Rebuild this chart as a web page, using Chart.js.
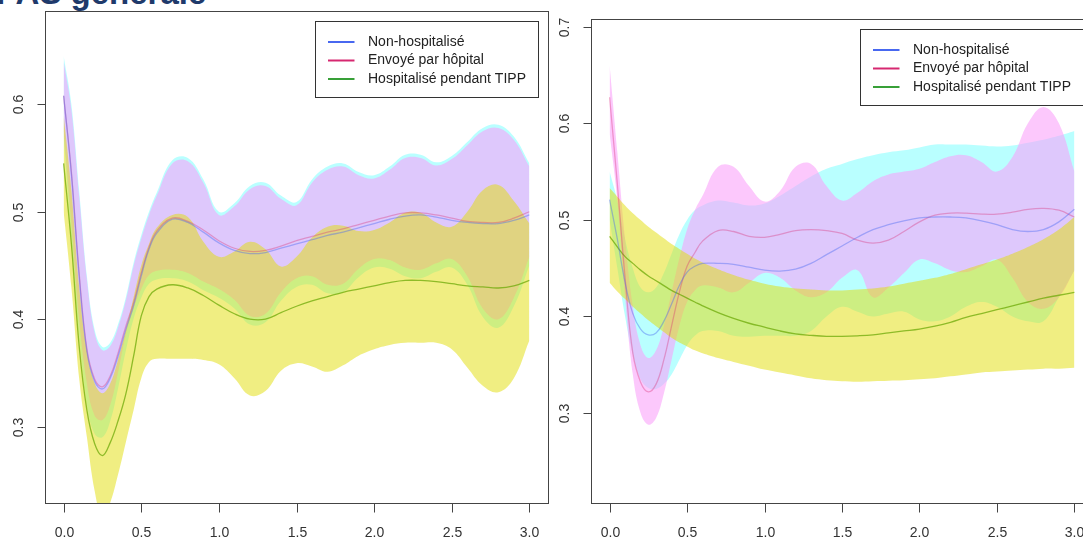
<!DOCTYPE html>
<html>
<head>
<meta charset="utf-8">
<script src="https://cdn.jsdelivr.net/npm/chart.js@4"></script>
<style>
  html, body { margin: 0; padding: 0; background: #fff; overflow: hidden; width: 1083px; height: 541px; }
  #title { position: absolute; left: -4px; top: -26px; font: bold 33px "Liberation Sans", Arial, sans-serif; color: #1f3a6b; white-space: nowrap; }
  .panel { position: absolute; top: 0; width: 560px; height: 541px; }
  #p1 { left: 0; }
  #p2 { left: 548px; }
</style>
</head>
<body>
<div id="title">PAS générale</div>
<div class="panel" id="p1"><canvas id="chartLeft" width="560" height="541"></canvas></div>
<div class="panel" id="p2"><canvas id="chartRight" width="560" height="541"></canvas></div>
<script>
// ===== Data =====
const xs = [0, 0.05, 0.1, 0.15, 0.2, 0.25, 0.3, 0.35, 0.4, 0.45, 0.5, 0.55, 0.6,
            0.7, 0.8, 0.9, 1.0, 1.1, 1.2, 1.3, 1.4, 1.5, 1.6, 1.7, 1.8, 1.9, 2.0,
            2.1, 2.2, 2.3, 2.4, 2.5, 2.6, 2.7, 2.8, 2.9, 3.0];
const xTicks = [0, 0.5, 1, 1.5, 2, 2.5, 3];
const yTicksLeft = [0.3, 0.4, 0.5, 0.6];
const yTicksRight = [0.3, 0.4, 0.5, 0.6, 0.7];
const seriesNames = ["Non-hospitalisé", "Envoyé par hôpital", "Hospitalisé pendant TIPP"];

// left panel
const nonHospMeanL = [0.608,0.535,0.44,0.37,0.342,0.335,0.345,0.365,0.39,0.412,0.44,0.465,0.48,0.493,0.49,0.481,0.471,0.464,0.461,0.462,0.466,0.47,0.474,0.478,0.481,0.485,0.489,0.493,0.496,0.497,0.495,0.492,0.49,0.489,0.489,0.492,0.497];
const nonHospLoL   = [0.57,0.475,0.385,0.32,0.293,0.29,0.305,0.335,0.37,0.4,0.42,0.433,0.437,0.438,0.435,0.427,0.42,0.41,0.395,0.397,0.417,0.43,0.432,0.424,0.425,0.439,0.448,0.447,0.44,0.438,0.444,0.448,0.432,0.402,0.392,0.412,0.45];
const nonHospUpL   = [0.645,0.6,0.52,0.44,0.39,0.374,0.378,0.395,0.42,0.452,0.478,0.5,0.518,0.548,0.55,0.53,0.5,0.508,0.524,0.527,0.515,0.509,0.53,0.542,0.545,0.537,0.534,0.542,0.553,0.553,0.546,0.552,0.565,0.578,0.581,0.57,0.545];
const envoyeMeanL  = [0.608,0.537,0.443,0.372,0.344,0.337,0.347,0.368,0.393,0.415,0.443,0.467,0.482,0.494,0.491,0.483,0.473,0.466,0.463,0.464,0.468,0.473,0.477,0.481,0.484,0.488,0.492,0.496,0.499,0.499,0.497,0.494,0.491,0.49,0.49,0.494,0.5];
const envoyeLoL    = [0.575,0.49,0.4,0.34,0.31,0.306,0.32,0.35,0.385,0.41,0.428,0.441,0.445,0.446,0.443,0.435,0.428,0.418,0.403,0.405,0.425,0.438,0.44,0.432,0.433,0.447,0.456,0.455,0.448,0.446,0.452,0.456,0.44,0.41,0.4,0.42,0.458];
const envoyeUpL    = [0.64,0.595,0.515,0.437,0.387,0.371,0.375,0.392,0.417,0.449,0.475,0.497,0.515,0.545,0.547,0.527,0.497,0.505,0.521,0.524,0.512,0.506,0.527,0.539,0.542,0.534,0.531,0.539,0.55,0.55,0.543,0.549,0.562,0.575,0.578,0.567,0.542];
const hospMeanL    = [0.545,0.47,0.375,0.315,0.284,0.273,0.285,0.305,0.33,0.365,0.403,0.421,0.428,0.432,0.429,0.422,0.413,0.405,0.4,0.4,0.406,0.412,0.417,0.421,0.425,0.428,0.431,0.434,0.436,0.436,0.435,0.433,0.431,0.43,0.429,0.431,0.436];
const hospLoL      = [0.5,0.43,0.345,0.29,0.24,0.215,0.229,0.255,0.285,0.315,0.345,0.36,0.363,0.363,0.363,0.362,0.358,0.345,0.329,0.333,0.352,0.359,0.356,0.351,0.357,0.366,0.372,0.376,0.378,0.378,0.378,0.372,0.355,0.338,0.332,0.345,0.38];
const hospUpL      = [0.59,0.52,0.43,0.37,0.34,0.331,0.34,0.362,0.39,0.42,0.45,0.47,0.485,0.497,0.495,0.472,0.458,0.463,0.472,0.465,0.449,0.458,0.476,0.486,0.487,0.482,0.483,0.49,0.499,0.499,0.49,0.486,0.5,0.52,0.525,0.51,0.489];

// right panel
const nonHospMeanR = [0.521,0.48,0.435,0.403,0.387,0.381,0.383,0.395,0.413,0.432,0.446,0.452,0.455,0.455,0.454,0.451,0.448,0.447,0.449,0.455,0.464,0.473,0.482,0.49,0.495,0.499,0.502,0.503,0.503,0.502,0.499,0.495,0.49,0.488,0.49,0.498,0.511];
const nonHospLoR   = [0.5,0.45,0.4,0.36,0.335,0.326,0.325,0.33,0.34,0.355,0.37,0.38,0.385,0.385,0.38,0.379,0.38,0.38,0.38,0.385,0.4,0.41,0.405,0.4,0.403,0.405,0.397,0.395,0.4,0.41,0.415,0.41,0.4,0.395,0.395,0.42,0.448];
const nonHospUpR   = [0.55,0.52,0.48,0.45,0.43,0.425,0.43,0.445,0.465,0.485,0.5,0.51,0.515,0.52,0.518,0.515,0.517,0.525,0.535,0.545,0.553,0.558,0.563,0.567,0.57,0.572,0.575,0.578,0.578,0.578,0.577,0.576,0.577,0.58,0.583,0.587,0.592];
const envoyeMeanR  = [0.627,0.537,0.44,0.362,0.332,0.322,0.33,0.355,0.39,0.425,0.452,0.466,0.478,0.489,0.488,0.483,0.482,0.485,0.489,0.49,0.489,0.486,0.479,0.476,0.479,0.488,0.498,0.505,0.507,0.507,0.506,0.506,0.508,0.511,0.512,0.51,0.503];
const envoyeLoR    = [0.59,0.52,0.42,0.34,0.3,0.288,0.295,0.32,0.355,0.39,0.415,0.427,0.432,0.43,0.425,0.435,0.445,0.44,0.427,0.42,0.425,0.44,0.448,0.42,0.43,0.445,0.459,0.455,0.448,0.446,0.452,0.459,0.44,0.415,0.408,0.42,0.448];
const envoyeUpR    = [0.66,0.57,0.48,0.41,0.37,0.357,0.365,0.39,0.425,0.46,0.49,0.51,0.525,0.555,0.555,0.535,0.519,0.53,0.555,0.558,0.535,0.52,0.528,0.54,0.547,0.55,0.553,0.56,0.566,0.567,0.56,0.55,0.565,0.6,0.617,0.6,0.55];
const hospMeanR    = [0.483,0.472,0.462,0.455,0.448,0.442,0.437,0.432,0.427,0.423,0.419,0.415,0.411,0.404,0.398,0.393,0.389,0.385,0.382,0.3805,0.3795,0.3795,0.38,0.381,0.383,0.385,0.387,0.39,0.394,0.399,0.403,0.407,0.411,0.415,0.419,0.422,0.425];
const hospLoR      = [0.435,0.426,0.418,0.41,0.403,0.396,0.39,0.384,0.378,0.373,0.369,0.365,0.362,0.357,0.353,0.349,0.345,0.342,0.339,0.336,0.334,0.333,0.3325,0.333,0.3335,0.334,0.335,0.336,0.338,0.34,0.342,0.343,0.344,0.345,0.346,0.346,0.347];
const hospUpR      = [0.533,0.524,0.515,0.507,0.5,0.493,0.487,0.481,0.475,0.47,0.465,0.46,0.456,0.449,0.443,0.438,0.434,0.431,0.429,0.428,0.427,0.427,0.428,0.429,0.431,0.434,0.437,0.44,0.444,0.449,0.454,0.459,0.465,0.472,0.48,0.49,0.503];

// ===== Styles =====
const lineColors = ["rgb(72,104,240)", "rgb(214,40,112)", "rgb(56,160,56)"];
const lineColorsPlot = ["rgba(72,104,240,0.42)", "rgba(214,40,112,0.35)", "rgba(110,170,10,0.75)"];
const bandColors = ["rgba(0,255,255,0.275)", "rgba(250,158,250,0.57)", "rgba(225,221,5,0.5)"];
const FONT = '"Liberation Sans", Arial, Helvetica, sans-serif';

function pts(ys) {
  return xs.map((x, i) => ({ x: x, y: ys[i] }));
}

function band(lo, hi, color, order) {
  return [
    { data: pts(lo), borderWidth: 0, borderColor: "transparent", pointRadius: 0, fill: false, tension: 0.4, order: order },
    { data: pts(hi), borderWidth: 0, borderColor: "transparent", pointRadius: 0, fill: "-1", backgroundColor: color, tension: 0.4, order: order }
  ];
}

function meanLine(ys, color) {
  return { data: pts(ys), borderColor: color, borderWidth: 1.3, pointRadius: 0, fill: false, tension: 0.4, order: 0 };
}

// axes box, ticks, labels and legend drawn like base R graphics
const rFrame = {
  id: "rFrame",
  afterDraw(chart, args, opts) {
    const { ctx, chartArea: a, scales: { x, y } } = chart;
    ctx.save();
    ctx.strokeStyle = "#444";
    ctx.lineWidth = 1;
    const L = Math.round(a.left) + 0.5, T = Math.round(a.top) + 0.5;
    const R = Math.round(a.right) + 0.5, B = Math.round(a.bottom) + 0.5;
    ctx.strokeRect(L, T, R - L, B - T);

    ctx.fillStyle = "#333";
    ctx.font = "14px " + FONT;
    ctx.textAlign = "center";
    ctx.textBaseline = "middle";
    xTicks.forEach(v => {
      const px = Math.round(x.getPixelForValue(v)) + 0.5;
      ctx.beginPath(); ctx.moveTo(px, B); ctx.lineTo(px, B + 9); ctx.stroke();
      ctx.fillText(v.toFixed(1), px, B + 30);
    });
    opts.yTicks.forEach(v => {
      const py = Math.round(y.getPixelForValue(v)) + 0.5;
      ctx.beginPath(); ctx.moveTo(L, py); ctx.lineTo(L - 8, py); ctx.stroke();
      ctx.save();
      ctx.translate(L - 26, py);
      ctx.rotate(-Math.PI / 2);
      ctx.fillText(v.toFixed(1), 0, 0);
      ctx.restore();
    });

    // legend, top right
    const w = 223, h = 76;
    const lx = Math.round(a.right - 10 - w) + 0.5, ly = Math.round(a.top + 10) + 0.5;
    ctx.fillStyle = "#fff";
    ctx.fillRect(lx, ly, w, h);
    ctx.strokeStyle = "#333";
    ctx.strokeRect(lx, ly, w, h);
    ctx.textAlign = "left";
    seriesNames.forEach((name, i) => {
      const ry = ly + 20.5 + i * 18.5;
      ctx.strokeStyle = lineColors[i];
      ctx.lineWidth = 2;
      ctx.beginPath(); ctx.moveTo(lx + 12.5, ry); ctx.lineTo(lx + 39, ry); ctx.stroke();
      ctx.fillStyle = "#222";
      ctx.fillText(name, lx + 52.5, ry);
    });
    ctx.restore();
  }
};

function makeChart(id, d, yMin, yMax, yTicks, pad) {
  const datasets = [
    ...band(d.nhLo, d.nhUp, bandColors[0], 30),
    ...band(d.enLo, d.enUp, bandColors[1], 20),
    ...band(d.hoLo, d.hoUp, bandColors[2], 10),
    meanLine(d.nh, lineColorsPlot[0]),
    meanLine(d.en, lineColorsPlot[1]),
    meanLine(d.ho, lineColorsPlot[2])
  ];
  return new Chart(document.getElementById(id), {
    type: "line",
    data: { datasets: datasets },
    options: {
      responsive: false,
      animation: false,
      events: [],
      layout: { padding: pad },
      scales: {
        x: { type: "linear", min: -0.12, max: 3.12, display: false },
        y: { type: "linear", min: yMin, max: yMax, display: false }
      },
      plugins: {
        legend: { display: false },
        tooltip: { enabled: false },
        rFrame: { yTicks: yTicks }
      }
    },
    plugins: [rFrame]
  });
}

makeChart("chartLeft", {
  nh: nonHospMeanL, nhLo: nonHospLoL, nhUp: nonHospUpL,
  en: envoyeMeanL, enLo: envoyeLoL, enUp: envoyeUpL,
  ho: hospMeanL, hoLo: hospLoL, hoUp: hospUpL
}, 0.2288, 0.6869, yTicksLeft, { left: 45, top: 11, right: 12, bottom: 38 });

makeChart("chartRight", {
  nh: nonHospMeanR, nhLo: nonHospLoR, nhUp: nonHospUpR,
  en: envoyeMeanR, enLo: envoyeLoR, enUp: envoyeUpR,
  ho: hospMeanR, hoLo: hospLoR, hoUp: hospUpR
}, 0.2069, 0.708, yTicksRight, { left: 43, top: 19, right: 15, bottom: 38 });
</script>
</body>
</html>
